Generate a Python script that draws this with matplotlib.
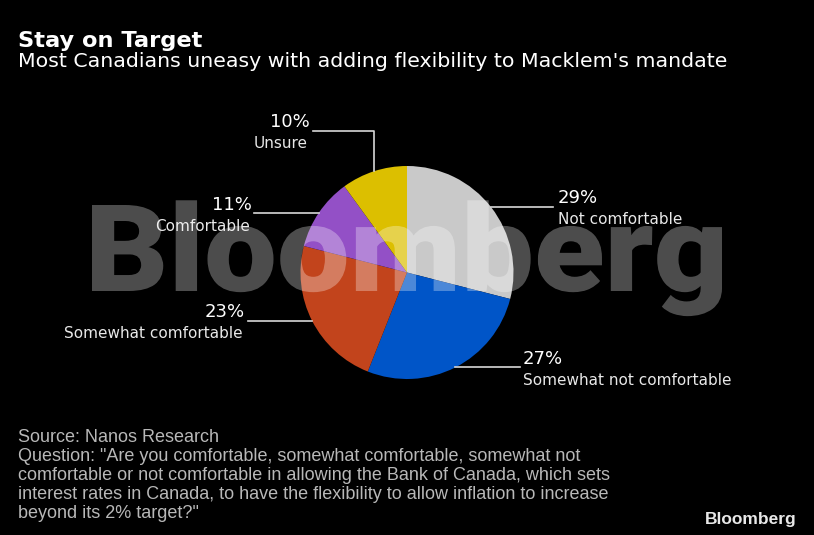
import numpy as np
import matplotlib.pyplot as plt
from matplotlib.textpath import TextPath
from matplotlib.patches import PathPatch
from matplotlib.font_manager import FontProperties
from matplotlib.transforms import Affine2D

# Dados da pesquisa (Nanos Research), no sentido horário a partir do topo
categorias = ["Not comfortable", "Somewhat not comfortable", "Somewhat comfortable",
              "Comfortable", "Unsure"]
valores = [29, 27, 23, 11, 10]
cores = ["#c9c9c9", "#0055c8", "#c2441c", "#9350c6", "#dcbf00"]

W, H = 814, 535
CX, CY, R = 407, 272.5, 106.5


def fx(px):
    return px / W


def fy(py):
    return 1 - py / H


def para_dados(px, py):
    # converte pixel da figura para coordenadas do eixo da pizza
    return (px - CX) / R, (CY - py) / R


fig = plt.figure(figsize=(W / 100, H / 100), dpi=100, facecolor="black")

ax = fig.add_axes([fx(CX - R), fy(CY + R), 2 * R / W, 2 * R / H])
ax.set_facecolor("black")
fatias, _ = ax.pie(valores, colors=cores, startangle=90, counterclock=False,
                   radius=1, wedgeprops=dict(linewidth=0))
ax.set_xlim(-1, 1)
ax.set_ylim(-1, 1)
ax.axis("off")

# Pontos médios de cada fatia na borda
total = sum(valores)
acumulado = np.cumsum([0] + valores[:-1])
meios = []
for inicio, v in zip(acumulado, valores):
    ang = np.deg2rad(90 - (inicio + v / 2) / total * 360)
    meios.append((np.cos(ang), np.sin(ang)))

cor_linha = "#d8d8d8"

# Linhas de chamada: (x final em pixel) ou rota com cotovelo
fim_x = {"Not comfortable": 553, "Somewhat not comfortable": 520,
         "Somewhat comfortable": 248, "Comfortable": 254}
for nome, (mx, my) in zip(categorias, meios):
    if nome in fim_x:
        ex, _ = para_dados(fim_x[nome], 0)
        ax.plot([mx, ex], [my, my], color=cor_linha, lw=1.2, clip_on=False)
    else:
        _, ty = para_dados(0, 131)
        ex, _ = para_dados(313, 0)
        ax.plot([mx, mx, ex], [my, ty, ty], color=cor_linha, lw=1.2, clip_on=False)

# Rótulos (percentual + nome)
rotulos = {
    "Not comfortable": (558, 203, 558, 224, "left"),
    "Somewhat not comfortable": (523, 364, 523, 385, "left"),
    "Somewhat comfortable": (245, 317, 243, 338, "right"),
    "Comfortable": (252, 210, 250, 231, "right"),
    "Unsure": (310, 127, 308, 148, "right"),
}
for nome, v in zip(categorias, valores):
    px1, py1, px2, py2, ha = rotulos[nome]
    fig.text(fx(px1), fy(py1), f"{v}%", color="white", fontsize=13,
             ha=ha, va="baseline")
    fig.text(fx(px2), fy(py2), nome, color="#e8e8e8", fontsize=11,
             ha=ha, va="baseline")

# Marca d'água: texto como caminho, esticado para a largura da original
fonte_marca = FontProperties(family="Roboto", weight=900)
caminho = TextPath((0, 0), "Bloomberg", size=100, prop=fonte_marca)
altura_b = TextPath((0, 0), "B", size=100, prop=fonte_marca).get_extents()
ext = caminho.get_extents()
sx = 630 / ext.width
sy = 86 / altura_b.y1
transf = (Affine2D().translate(-ext.x0, 0).scale(sx, sy)
          .translate(92, H - 291).scale(1 / W, 1 / H) + fig.transFigure)
marca = PathPatch(caminho, facecolor="white", edgecolor="none", alpha=0.3,
                  transform=transf, zorder=5)
fig.add_artist(marca)

# Título e subtítulo
fig.text(fx(18), fy(47), "Stay on Target", color="white", fontsize=16.2,
         fontweight="bold", ha="left", va="baseline")
fig.text(fx(18), fy(67), "Most Canadians uneasy with adding flexibility to Macklem's mandate",
         color="white", fontsize=14.75, ha="left", va="baseline")

# Rodapé
rodape = [
    "Source: Nanos Research",
    "Question: \"Are you comfortable, somewhat comfortable, somewhat not",
    "comfortable or not comfortable in allowing the Bank of Canada, which sets",
    "interest rates in Canada, to have the flexibility to allow inflation to increase",
    "beyond its 2% target?\"",
]
for i, linha in enumerate(rodape):
    fig.text(fx(18), fy(442 + 19 * i), linha, color="#b8b8b8", fontsize=13,
             family=["Liberation Sans", "DejaVu Sans"],
             ha="left", va="baseline")

fig.text(fx(797), fy(524), "Bloomberg", color="#e8e8e8", fontsize=12.5,
         fontweight="bold", family=["Liberation Sans", "DejaVu Sans"],
         ha="right", va="baseline")

fig.savefig("out.png", dpi=100, facecolor="black")
